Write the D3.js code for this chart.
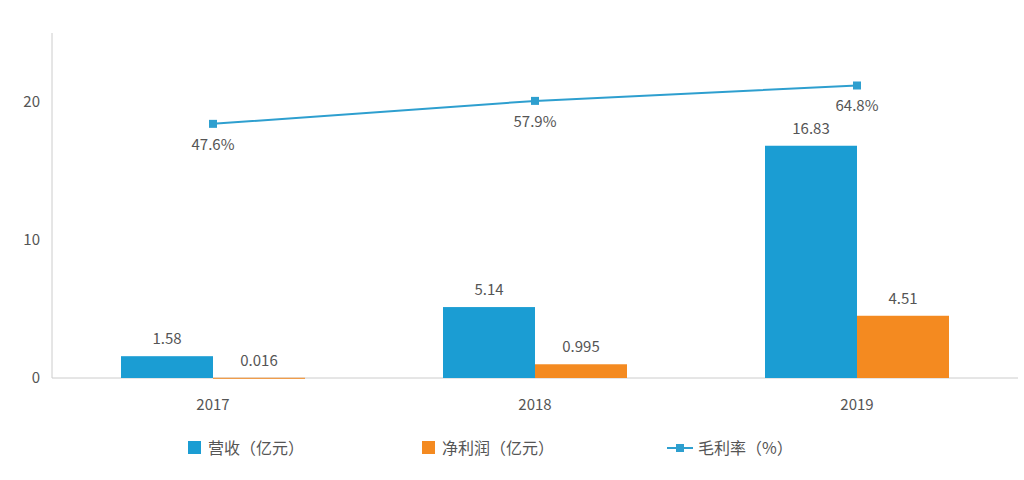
<!DOCTYPE html>
<html><head><meta charset="utf-8">
<script src="https://cdn.jsdelivr.net/npm/d3@7/dist/d3.min.js"></script>
<style>body{margin:0;background:#fff}text{font-family:"Noto Sans CJK SC","Noto Sans",sans-serif;fill:#555}</style>
</head><body><svg id="c" width="1024" height="480"></svg>
<script>
var years = ["2017","2018","2019"]
var revenue = [1.58, 5.14, 16.83]
var profit = [0.016, 0.995, 4.51]
var margin = [47.6, 57.9, 64.8]
var revLabels = ["1.58","5.14","16.83"]
var profLabels = ["0.016","0.995","4.51"]
var yTicks = [0, 10, 20]
var legendNames = ["营收（亿元）","净利润（亿元）","毛利率（%）"]

var blue = "#1b9dd3", orange = "#f48a20", lineC = "#2e9fcf"
var svg = d3.select("#c")
var x = d3.scaleBand().domain(years).range([52, 1018])
var y = d3.scaleLinear().domain([0, 25]).range([378, 33])
var yp = d3.scaleLinear().domain([0, 100]).range([230, 7])
var bw = 92

svg.append("line").attr("x1",52).attr("x2",52).attr("y1",33).attr("y2",378).attr("stroke","#ccc")
svg.append("line").attr("x1",52).attr("x2",1018).attr("y1",378).attr("y2",378).attr("stroke","#ccc")

svg.selectAll(".yt").data(yTicks).enter().append("text")
  .attr("x",40).attr("y",function(d){return y(d)+5}).attr("text-anchor","end")
  .attr("font-size",15).text(function(d){return d})
svg.selectAll(".xt").data(years).enter().append("text")
  .attr("x",function(d){return x(d)+x.bandwidth()/2}).attr("y",410).attr("text-anchor","middle")
  .attr("font-size",15).text(function(d){return d})

var cx = function(i){return x(years[i])+x.bandwidth()/2}
svg.selectAll(".rb").data(revenue).enter().append("rect")
  .attr("x",function(d,i){return cx(i)-bw}).attr("width",bw)
  .attr("y",function(d){return y(d)}).attr("height",function(d){return y(0)-y(d)}).attr("fill",blue)
svg.selectAll(".pb").data(profit).enter().append("rect")
  .attr("x",function(d,i){return cx(i)}).attr("width",bw)
  .attr("y",function(d){return y(d)}).attr("height",function(d){return Math.max(1,y(0)-y(d))}).attr("fill",orange)
svg.selectAll(".rl").data(revenue).enter().append("text")
  .attr("x",function(d,i){return cx(i)-bw/2}).attr("y",function(d){return y(d)-12})
  .attr("text-anchor","middle").attr("font-size",15).text(function(d,i){return revLabels[i]})
svg.selectAll(".pl").data(profit).enter().append("text")
  .attr("x",function(d,i){return cx(i)+bw/2}).attr("y",function(d){return y(d)-12})
  .attr("text-anchor","middle").attr("font-size",15).text(function(d,i){return profLabels[i]})

var line = d3.line().x(function(d,i){return cx(i)}).y(function(d){return yp(d)})
svg.append("path").datum(margin).attr("d",line).attr("fill","none").attr("stroke",lineC).attr("stroke-width",2)
svg.selectAll(".mk").data(margin).enter().append("rect")
  .attr("x",function(d,i){return cx(i)-4}).attr("y",function(d){return yp(d)-4})
  .attr("width",8).attr("height",8).attr("fill",lineC)
svg.selectAll(".ml").data(margin).enter().append("text")
  .attr("x",function(d,i){return cx(i)}).attr("y",function(d){return yp(d)+26})
  .attr("text-anchor","middle").attr("font-size",15).text(function(d){return d+"%"})

var lg = svg.append("g")
lg.append("rect").attr("x",188).attr("y",441).attr("width",13).attr("height",13).attr("fill",blue)
lg.append("text").attr("x",208).attr("y",454).attr("font-size",16).text(legendNames[0])
lg.append("rect").attr("x",422).attr("y",441).attr("width",13).attr("height",13).attr("fill",orange)
lg.append("text").attr("x",442).attr("y",454).attr("font-size",16).text(legendNames[1])
lg.append("line").attr("x1",667).attr("x2",693).attr("y1",448).attr("y2",448).attr("stroke",lineC).attr("stroke-width",2)
lg.append("rect").attr("x",676).attr("y",444).attr("width",8).attr("height",8).attr("fill",lineC)
lg.append("text").attr("x",698).attr("y",454).attr("font-size",16).text(legendNames[2])
</script></body></html>
